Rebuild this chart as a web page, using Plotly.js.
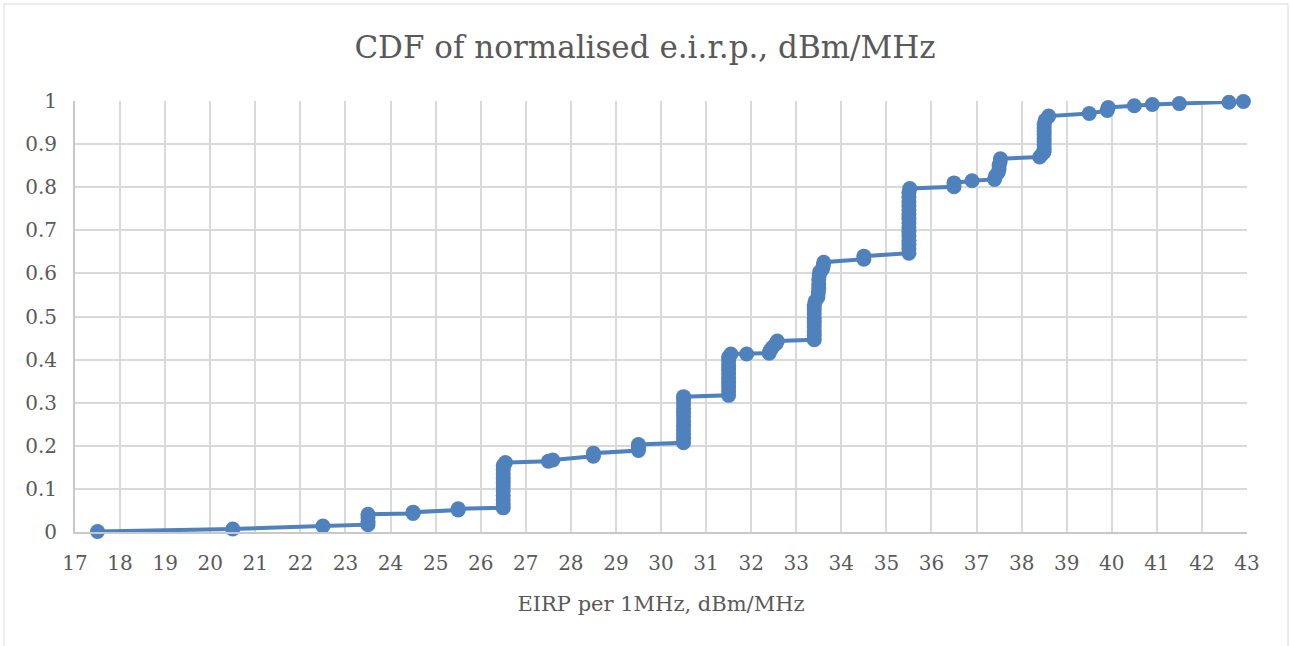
<!DOCTYPE html>
<html>
<head>
<meta charset="utf-8">
<script src="https://cdn.plot.ly/plotly-3.0.1.min.js"></script>
<style>
html,body{margin:0;padding:0;background:#fff;}
#chart{width:1290px;height:646px;}
</style>
</head>
<body>
<div id="chart"></div>
<script>
// EIRP per 1 MHz (dBm/MHz) for each sample
const eirp = [
  17.5, 20.5, 22.5,
  23.5, 23.5, 23.5, 23.5,
  24.5, 24.5,
  25.5, 25.5,
  26.5, 26.5, 26.5, 26.5, 26.5, 26.5, 26.5, 26.5, 26.5, 26.5, 26.5, 26.55,
  27.5, 27.6,
  28.5, 28.5,
  29.5, 29.5, 29.5,
  30.5, 30.5, 30.5, 30.5, 30.5, 30.5, 30.5, 30.5, 30.5, 30.5, 30.5, 30.5,
  31.5, 31.5, 31.5, 31.5, 31.5, 31.5, 31.5, 31.5, 31.5, 31.5, 31.55,
  31.9,
  32.4, 32.42, 32.47, 32.55, 32.58,
  33.4, 33.4, 33.4, 33.4, 33.4, 33.4, 33.4, 33.4, 33.4, 33.42,
  33.48, 33.49, 33.5, 33.5, 33.5, 33.51, 33.52,
  33.58, 33.6, 33.61,
  34.5, 34.5,
  35.5, 35.5, 35.5, 35.5, 35.5, 35.5, 35.5, 35.5, 35.5, 35.5, 35.5, 35.5, 35.5, 35.5, 35.5, 35.52,
  36.5, 36.5,
  36.9,
  37.4, 37.42, 37.48, 37.5, 37.5, 37.52, 37.53,
  38.4, 38.45,
  38.5, 38.5, 38.5, 38.5, 38.5, 38.5, 38.5, 38.5, 38.5, 38.52,
  38.6,
  39.5,
  39.9, 39.92,
  40.5,
  40.9,
  41.5,
  42.6,
  42.92
];
// Cumulative probability for each sample
const cdf = [
  0.001, 0.007, 0.014,
  0.017, 0.025, 0.033, 0.041,
  0.043, 0.046,
  0.051, 0.054,
  0.056, 0.065, 0.075, 0.085, 0.095, 0.105, 0.115, 0.125, 0.135, 0.145, 0.155, 0.161,
  0.164, 0.167,
  0.176, 0.183,
  0.189, 0.196, 0.203,
  0.207, 0.217, 0.227, 0.237, 0.247, 0.257, 0.267, 0.277, 0.287, 0.297, 0.307, 0.314,
  0.317, 0.327, 0.337, 0.347, 0.357, 0.367, 0.377, 0.387, 0.397, 0.406, 0.413,
  0.413,
  0.415, 0.421, 0.428, 0.437, 0.443,
  0.446, 0.456, 0.466, 0.476, 0.486, 0.496, 0.506, 0.516, 0.526, 0.535,
  0.545, 0.555, 0.565, 0.575, 0.585, 0.595, 0.603,
  0.610, 0.618, 0.626,
  0.633, 0.640,
  0.647, 0.657, 0.667, 0.677, 0.687, 0.697, 0.707, 0.717, 0.727, 0.737, 0.747, 0.757, 0.767, 0.777, 0.787, 0.797,
  0.801, 0.810,
  0.815,
  0.818, 0.826, 0.834, 0.842, 0.850, 0.858, 0.866,
  0.870, 0.876,
  0.882, 0.890, 0.898, 0.906, 0.914, 0.922, 0.930, 0.938, 0.946, 0.955,
  0.965,
  0.971,
  0.978, 0.985,
  0.989,
  0.992,
  0.994,
  0.997,
  0.999
];
const xTicks = [17,18,19,20,21,22,23,24,25,26,27,28,29,30,31,32,33,34,35,36,37,38,39,40,41,42,43];
const yTicks = [0,0.1,0.2,0.3,0.4,0.5,0.6,0.7,0.8,0.9,1];
const yTickText = ['0','0.1','0.2','0.3','0.4','0.5','0.6','0.7','0.8','0.9','1'];

const fontFam = '"DejaVu Serif", "Liberation Serif", serif';
const textCol = '#595959';

const trace = {
  x: eirp, y: cdf,
  type: 'scatter', mode: 'lines+markers',
  line: {color: '#4F81BD', width: 4},
  marker: {color: '#4F81BD', size: 15},
  cliponaxis: false,
  hoverinfo: 'x+y'
};

const layout = {
  width: 1290, height: 646,
  margin: {l: 75, r: 43, t: 101, b: 114},
  paper_bgcolor: '#ffffff', plot_bgcolor: '#ffffff',
  showlegend: false,
  title: {
    text: 'CDF of normalised e.i.r.p., dBm/MHz',
    font: {family: fontFam, size: 31, color: textCol},
    x: 0.5, xanchor: 'center', y: 0.927, yanchor: 'middle'
  },
  xaxis: {
    range: [17, 43], tickvals: xTicks, ticktext: xTicks.map(String),
    showgrid: true, gridcolor: '#d9d9d9', gridwidth: 2,
    zeroline: false, showline: true, linecolor: '#c8c8c8', linewidth: 2,
    ticks: '', ticklabelstandoff: 12,
    tickfont: {family: fontFam, size: 20, color: textCol},
    title: {text: 'EIRP per 1MHz, dBm/MHz', font: {family: fontFam, size: 21, color: textCol}, standoff: 22}
  },
  yaxis: {
    range: [0, 1], tickvals: yTicks, ticktext: yTickText,
    showgrid: true, gridcolor: '#d9d9d9', gridwidth: 2,
    zeroline: false, showline: true, linecolor: '#c8c8c8', linewidth: 2,
    ticks: '', ticklabelstandoff: 12,
    tickfont: {family: fontFam, size: 20, color: textCol}
  },
  shapes: [{
    type: 'rect', xref: 'paper', yref: 'paper',
    x0: (4 - 75) / 1172, x1: (1288 - 75) / 1172,
    y0: (532 - 660) / 431, y1: (532 - 4) / 431,
    line: {color: '#d9d9d9', width: 1}, fillcolor: 'rgba(0,0,0,0)', layer: 'below'
  }]
};

Plotly.newPlot('chart', [trace], layout, {displayModeBar: false, staticPlot: true});
</script>
</body>
</html>
